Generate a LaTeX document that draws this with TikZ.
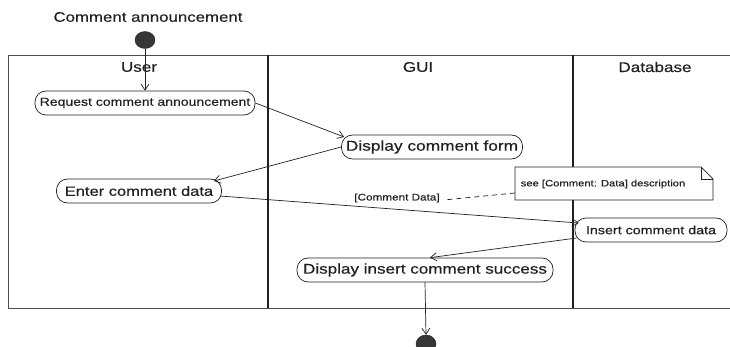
\documentclass[tikz,border=0pt]{standalone}
\usepackage{fontspec}
\setmainfont[FakeStretch=1.22,FakeBold=0.4]{Liberation Sans}
\usetikzlibrary{arrows.meta,shapes.geometric,calc}
\definecolor{ink}{HTML}{202020}
\tikzset{
  act/.style={draw=ink, line width=0.7pt, rectangle, rounded corners=11pt, inner sep=0pt, minimum height=24pt, text=ink},
  flow/.style={draw=ink, line width=0.7pt, -{Straight Barb[length=6pt,width=8pt]}},
  frameline/.style={draw=ink!80, line width=0.7pt},
  lanediv/.style={draw=ink, line width=1.1pt},
  dot/.style={ellipse, fill=ink!90, draw=ink, inner sep=0pt},
  lbl/.style={text=ink, inner sep=0pt}
}
\begin{document}
\begin{tikzpicture}[x=1pt,y=-1pt]
\useasboundingbox (0,0) rectangle (730,347);
% title
\node[lbl, font=\fontsize{13.8}{15}\selectfont] (title) at (148,17) {Comment announcement};
% swimlane frame
\coordinate (ftl) at (8,55);
\coordinate (ftr) at (730,55);
\coordinate (fbl) at (8,308);
\coordinate (fbr) at (730,308);
\draw[frameline] (ftr) -- (ftl) -- (fbl) -- (fbr);
\coordinate (d1t) at (268,55); \coordinate (d1b) at (268,308);
\coordinate (d2t) at (573,55); \coordinate (d2b) at (573,308);
\draw[lanediv] (d1t) -- (d1b);
\draw[lanediv] (d2t) -- (d2b);
% lane titles
\node[lbl, font=\fontsize{14}{15}\selectfont] (luser) at (139,67) {User};
\node[lbl, font=\fontsize{14}{15}\selectfont] (lgui) at (418,67) {GUI};
\node[lbl, font=\fontsize{14}{15}\selectfont] (ldb) at (655,67) {Database};
% start / end
\node[dot, minimum width=20pt, minimum height=17pt] (start) at (145,40) {};
\node[dot, minimum width=20pt, minimum height=18pt] (end) at (426,344) {};
% activities
\node[act, minimum width=220pt, font=\fontsize{11.5}{13}\selectfont] (req) at (145,103) {Request comment announcement};
\node[act, minimum width=181pt, font=\fontsize{14.2}{15}\selectfont] (dcf) at (432,147) {Display comment form};
\node[act, minimum width=165pt, font=\fontsize{13.5}{15}\selectfont] (ecd) at (139,191) {Enter comment data};
\node[act, minimum width=152pt, font=\fontsize{11.7}{13}\selectfont, fill=white] (icd) at (651,230) {Insert comment data};
\node[act, minimum width=256pt, font=\fontsize{14}{15}\selectfont] (dis) at (425,270) {Display insert comment success};
% note
\coordinate (n1) at (515,167); \coordinate (n2) at (701,167); \coordinate (n3) at (713,179);
\coordinate (n4) at (713,200); \coordinate (n5) at (515,200);
\draw[draw=ink, line width=0.7pt, fill=white] (n1) -- (n2) -- (n3) -- (n4) -- (n5) -- cycle;
\coordinate (nf) at (701,179);
\draw[draw=ink, line width=0.7pt] (n2) -- (nf) -- (n3);
\node[lbl, font=\fontsize{9.2}{10}\selectfont] (note) at (603,184) {see [Comment: Data] description};
% object flow label
\node[lbl, font=\fontsize{9.6}{11}\selectfont] (cdl) at (397,198) {[Comment Data]};
\coordinate (nlink) at (515,193);
\draw[draw=ink, line width=0.7pt, dash pattern=on 5pt off 4pt] (nlink) -- ($(cdl.east)+(4,2)$);
% flows
\draw[flow] (start) -- (req);
\draw[flow] (req.east) -- ($(dcf.west)+(3,-10)$);
\draw[flow] ($(dcf.west)+(0,0)$) -- ($(ecd.east)+(-8,-10)$);
\draw[flow] ($(ecd.east)+(-2,5)$) -- ($(icd.west)+(4,-7)$);
\draw[flow] ($(icd.west)+(2,8)$) -- ($(dis.north)+(5,0)$);
\draw[flow] (dis.south) -- (end.north);
\end{tikzpicture}
\end{document}
